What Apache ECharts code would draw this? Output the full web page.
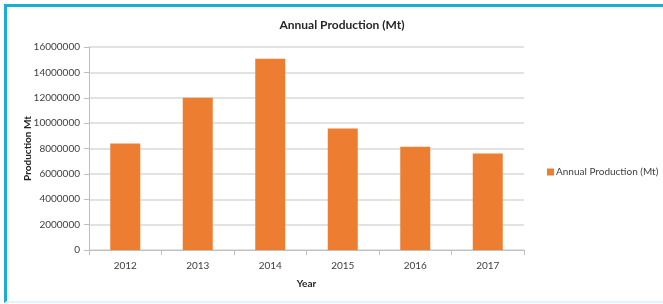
<!DOCTYPE html>
<html>
<head>
<meta charset="utf-8">
<script src="https://cdn.jsdelivr.net/npm/echarts@6/dist/echarts.min.js"></script>
<style>
  html, body { margin: 0; padding: 0; background: #fff; }
  #chart { position: absolute; left: 0; top: 0; width: 663px; height: 304px; }
  /* cyan frame round the picture */
  .frame {
    position: absolute; left: 4px; top: 4px; width: 670px; height: 294px;
    border-left: 3px solid #1aaed4; border-top: 3px solid #1aaed4;
    border-bottom: 2px solid #e3f4f9; pointer-events: none;
  }
</style>
</head>
<body>
<div id="chart"></div>
<div class="frame"></div>
<script>
const years = ['2012', '2013', '2014', '2015', '2016', '2017']
const production = [8400000, 12000000, 15070000, 9570000, 8130000, 7600000]
const seriesName = 'Annual Production (Mt)'

const font = 'Lato, "Open Sans", sans-serif'
const chart = echarts.init(document.getElementById('chart'))

chart.setOption({
  animation: false,
  title: {
    text: seriesName,
    left: 337,
    top: 14,
    textAlign: 'center',
    textStyle: { fontFamily: font, fontSize: 12, fontWeight: 'bold', color: '#262626' }
  },
  legend: {
    data: [seriesName],
    orient: 'vertical',
    left: 542,
    top: 162,
    itemWidth: 7,
    itemHeight: 7,
    itemGap: 4,
    icon: 'rect',
    textStyle: { fontFamily: font, fontSize: 10, color: '#404040', padding: [0, 0, 0, -3] }
  },
  grid: { left: 89, right: 139, top: 47, bottom: 54 },
  xAxis: {
    type: 'category',
    data: years,
    name: 'Year',
    nameLocation: 'middle',
    nameGap: 29,
    nameTextStyle: { fontFamily: font, fontSize: 10, fontWeight: 'bold', color: '#262626' },
    axisLine: { lineStyle: { color: '#bfbfbf' } },
    axisTick: { show: true, length: 5, lineStyle: { color: '#bfbfbf' } },
    axisLabel: { fontFamily: font, fontSize: 10, color: '#404040', margin: 11 }
  },
  yAxis: {
    type: 'value',
    min: 0,
    max: 16000000,
    interval: 2000000,
    name: 'Production Mt',
    nameLocation: 'middle',
    nameRotate: 90,
    nameGap: 56,
    nameMoveOverlap: false,
    nameTextStyle: { fontFamily: font, fontSize: 10, fontWeight: 'bold', color: '#262626' },
    axisLine: { show: true, lineStyle: { color: '#bfbfbf' } },
    axisTick: { show: true, length: 5, lineStyle: { color: '#bfbfbf' } },
    axisLabel: {
      fontFamily: font, fontSize: 10, color: '#404040', margin: 9,
      formatter: v => String(v)
    },
    splitLine: { lineStyle: { color: '#d9d9d9', width: 1.5 } }
  },
  series: [
    {
      name: seriesName,
      type: 'bar',
      barWidth: 30,
      itemStyle: { color: '#ED7D31' },
      data: production
    }
  ]
})
</script>
</body>
</html>
